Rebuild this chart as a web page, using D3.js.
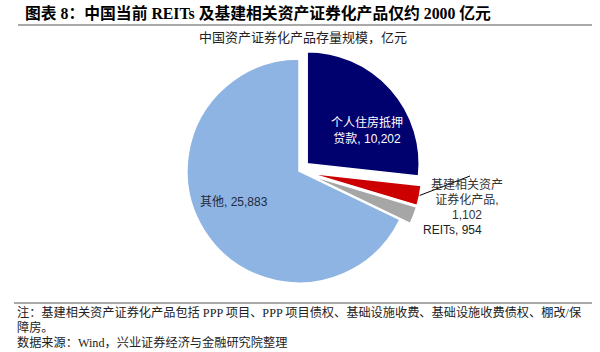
<!DOCTYPE html>
<html>
<head>
<meta charset="utf-8">
<script src="https://cdn.jsdelivr.net/npm/d3@7"></script>
<style>
  body { margin: 0; background: #fff; }
  svg { display: block; }
</style>
</head>
<body>
<svg id="chart" width="600" height="352"></svg>
<script>
// data
var categories = ["个人住房抵押贷款", "基建相关资产证券化产品", "REITs", "其他"];
var values = [10202, 1102, 954, 25883];
var labelLines = [["个人住房抵押", "贷款, 10,202"], ["基建相关资产", "证券化产品,", "1,102"], ["REITs, 954"], ["其他, 25,883"]];
var colors = ["#00006e", "#cc0000", "#a6a6a6", "#8db4e2"];
var exploded = [true, true, true, false];

var width = 600, height = 352;
var cx = 299, cy = 171, radius = 112;
var serif = "'Liberation Serif', 'Noto Sans CJK SC', serif";
var sans = "'Liberation Sans', 'Noto Sans CJK SC', sans-serif";

var svg = d3.select("#chart");

// title
svg.append("text")
    .attr("x", 25)
    .attr("y", 19)
    .style("font-family", serif)
    .style("font-size", "15.8px")
    .style("font-weight", "bold")
    .attr("fill", "#000")
    .text("图表 8：中国当前 REITs 及基建相关资产证券化产品仅约 2000 亿元");

svg.append("line")
    .attr("x1", 18).attr("x2", 592)
    .attr("y1", 25).attr("y2", 25)
    .attr("stroke", "#8c8c8c")
    .attr("stroke-width", 1.5);

// chart title
svg.append("text")
    .attr("x", 303)
    .attr("y", 42)
    .attr("text-anchor", "middle")
    .style("font-family", serif)
    .style("font-size", "13px")
    .attr("fill", "#222")
    .text("中国资产证券化产品存量规模，亿元");

var rows = categories.map(function (c, i) {
    return {name: c, value: values[i], i: i};
});

var pie = d3.pie()
    .sort(null)
    .value(function (d) { return d.value; });

var arcs = pie(rows);

var arc = d3.arc()
    .outerRadius(radius)
    .innerRadius(0);

var g = svg.append("g")
    .attr("transform", "translate(" + cx + "," + cy + ")");

var explode = 11;
function offset(d) {
    if (!exploded[d.data.i]) return [0, 0];
    var a = (d.startAngle + d.endAngle) / 2;
    return [Math.sin(a) * explode, -Math.cos(a) * explode];
}

g.selectAll("path")
    .data(arcs)
    .enter()
    .append("path")
    .attr("transform", function (d) {
        var o = offset(d);
        return "translate(" + o[0] + "," + o[1] + ")";
    })
    .attr("d", arc)
    .attr("fill", function (d) { return colors[d.data.i]; })
    .attr("stroke", "#fff")
    .attr("stroke-width", 1.5);

// labels
function addLabel(lines, x, y, fill, anchor, step) {
    var t = svg.append("text")
        .attr("text-anchor", anchor)
        .style("font-family", sans)
        .style("font-size", "12px")
        .attr("fill", fill);
    lines.forEach(function (l, k) {
        t.append("tspan")
            .attr("x", x)
            .attr("y", y + k * step)
            .text(l);
    });
}

// leader line for the red slice
var red = arcs[1];
var ro = offset(red);
var ra = (red.startAngle + red.endAngle) / 2;
svg.append("line")
    .attr("x1", cx + ro[0] + Math.sin(ra) * radius)
    .attr("y1", cy + ro[1] - Math.cos(ra) * radius)
    .attr("x2", 470)
    .attr("y2", 176)
    .attr("stroke", "#000")
    .attr("stroke-width", 1);

addLabel(labelLines[0], 367, 127, "#fff", "middle", 16);
addLabel(labelLines[1], 467, 189, "#333", "middle", 15);
addLabel(labelLines[2], 423, 234, "#222", "start", 15);
addLabel(labelLines[3], 200, 206, "#1f2a44", "start", 15);

// footer
svg.append("line")
    .attr("x1", 14).attr("x2", 592)
    .attr("y1", 303).attr("y2", 303)
    .attr("stroke", "#8c8c8c")
    .attr("stroke-width", 1.5);

var notes = [
    "注：基建相关资产证券化产品包括 PPP 项目、PPP 项目债权、基础设施收费、基础设施收费债权、棚改/保",
    "障房。",
    "数据来源：Wind，兴业证券经济与金融研究院整理"
];
notes.forEach(function (n, k) {
    svg.append("text")
        .attr("x", 17)
        .attr("y", 317 + k * 15)
        .style("font-family", serif)
        .style("font-size", "12.2px")
        .attr("fill", "#222")
        .text(n);
});
</script>
</body>
</html>
